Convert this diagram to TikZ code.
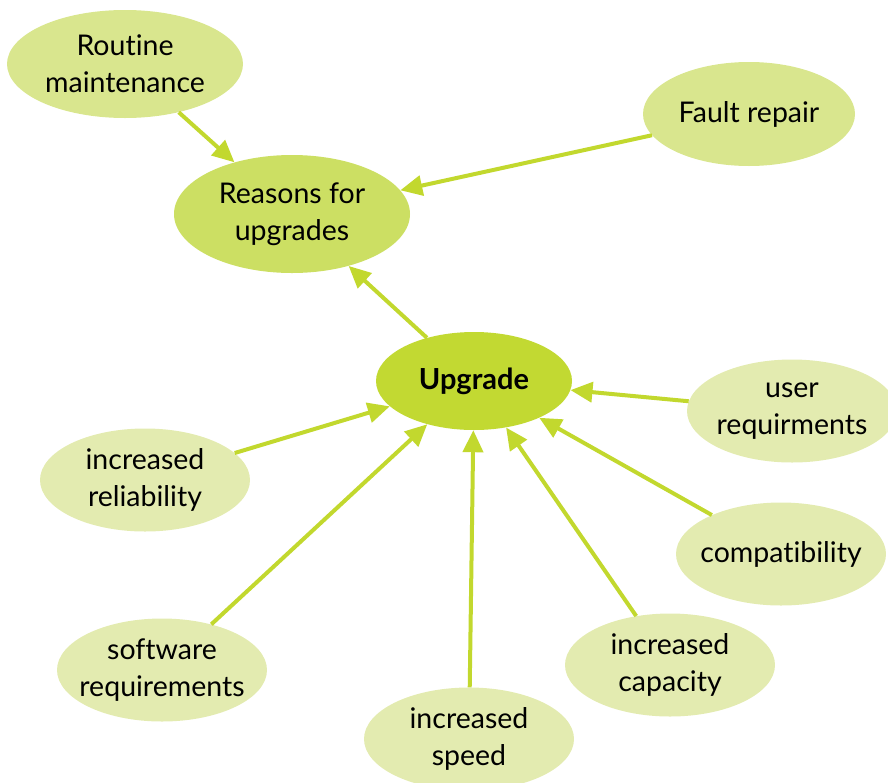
\documentclass[tikz,border=0pt]{standalone}
\usepackage{fontspec}
\setmainfont{Lato}[Ligatures={NoCommon,NoRare}]
\usetikzlibrary{shapes.geometric,arrows.meta}

\definecolor{limeline}{HTML}{C2D82E}
\definecolor{limecore}{HTML}{C2D932}
\definecolor{limemid}{HTML}{CCDF63}
\definecolor{limesoft}{HTML}{D9E68E}
\definecolor{limepale}{HTML}{E3EBB0}

\begin{document}
\begin{tikzpicture}[x=1pt, y=-1pt,
      bubble/.style={
        ellipse,
        fill=limepale,
        minimum width=210pt,
        minimum height=103pt,
        inner xsep=-14pt,
        inner ysep=0pt,
        align=center,
        font=\fontsize{28.5}{37}\selectfont
      },
      link/.style={
        -{Triangle[length=22pt,width=20pt]},
        draw=limeline,
        line width=4pt
      },
    ]
    \useasboundingbox (0, 0) rectangle (888, 782);

    \node [bubble, fill=limecore, minimum width=196pt, minimum height=98pt,
      font=\fontsize{29}{37}\selectfont\bfseries] (upgrade) at (474, 381) {Upgrade};
    \node [bubble, fill=limemid, minimum width=236pt, minimum height=118pt]
      (reasons) at (292, 214) {Reasons for\\upgrades};
    \node [bubble, fill=limesoft, minimum width=236pt, minimum height=108pt]
      (routine) at (125, 64) {Routine\\maintenance};
    \node [bubble, fill=limesoft, minimum width=212pt, minimum height=104pt]
      (fault) at (749, 114) {Fault repair};

    \node [bubble] (user) at (792, 411) {user\\requirments};
    \node [bubble] (reliab) at (145, 480) {increased\\reliability};
    \node [bubble] (compat) at (781, 554) {compatibility};
    \node [bubble] (software) at (162, 670) {software\\requirements};
    \node [bubble] (capacity) at (670, 665) {increased\\capacity};
    \node [bubble] (speed) at (469, 739) {increased\\speed};

    % reasons
    \draw [link] (routine) -- (reasons);
    \draw [link] (fault) -- (reasons);
    \draw [link] (upgrade) -- (reasons);

    % drivers
    \foreach \src in {user, reliab, compat, software, capacity, speed}
      \draw [link] (\src) -- (upgrade);
\end{tikzpicture}
\end{document}
